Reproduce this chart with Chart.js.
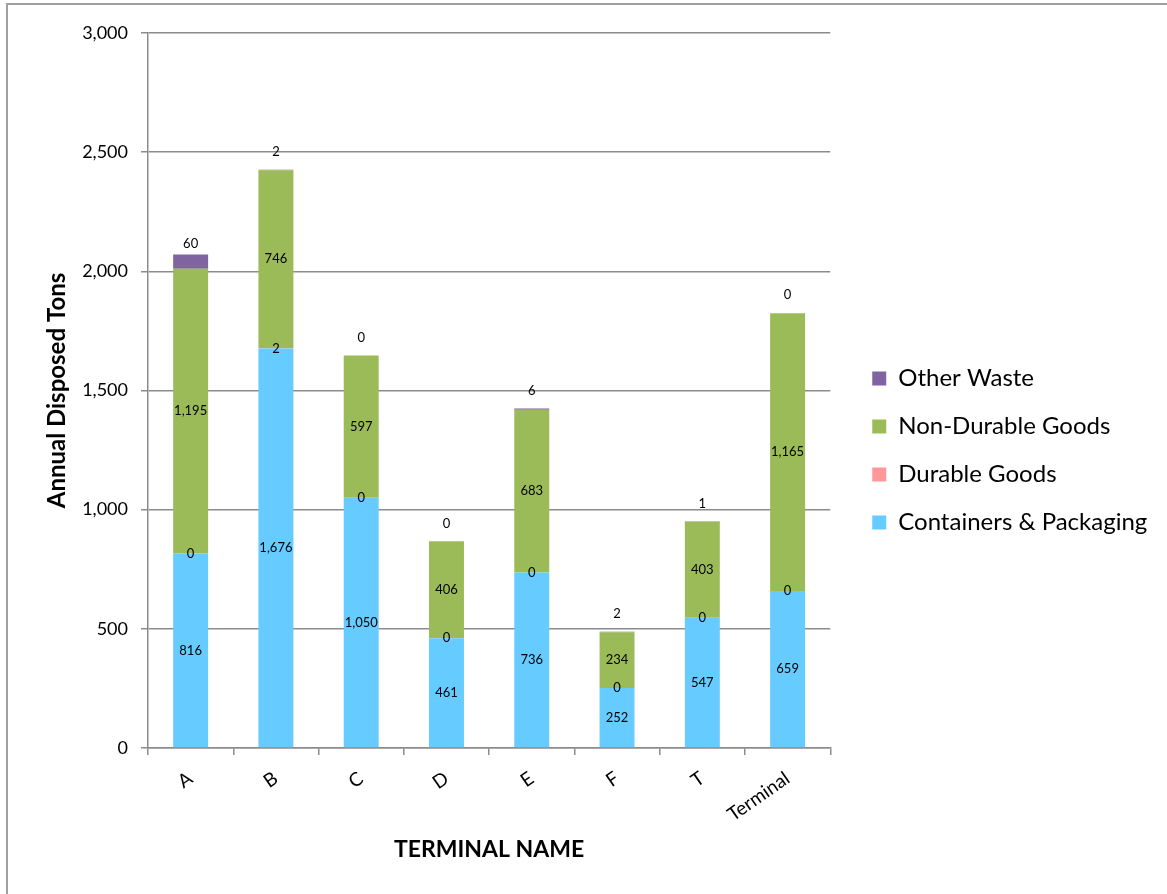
<!DOCTYPE html>
<html lang="en">
<head>
    <meta charset="UTF-8">
    <title>Annual Disposed Tons by Terminal</title>
    <script src="https://cdn.jsdelivr.net/npm/chart.js"></script>
    <style>
        body { margin: 0; background: #ffffff; overflow: hidden; }
        /* outer frame, only left and top edges are visible in the window */
        .frame {
            position: absolute; left: 6px; top: 3px;
            width: 1200px; height: 940px;
            border: 2px solid #a0a0a0;
        }
        #chart { position: absolute; left: 0; top: 0; }
    </style>
</head>
<body>
    <div class="frame"></div>
    <canvas id="chart" width="1167" height="894"></canvas>

    <script>
        // data
        var terminals = ['A', 'B', 'C', 'D', 'E', 'F', 'T', 'Terminal'];
        var containers = [816, 1676, 1050, 461, 736, 252, 547, 659];
        var durable = [0, 2, 0, 0, 0, 0, 0, 0];
        var nonDurable = [1195, 746, 597, 406, 683, 234, 403, 1165];
        var otherWaste = [60, 2, 0, 0, 6, 2, 1, 0];
        var yTicks = [0, 500, 1000, 1500, 2000, 2500, 3000];

        var fontName = 'Lato, "Open Sans", sans-serif';
        var gridGray = '#8c8c8c';

        // value labels on each segment; Other Waste sits above the stack
        var segmentLabels = {
            id: 'segmentLabels',
            afterDatasetsDraw: function (chart) {
                var ctx = chart.ctx;
                ctx.save();
                ctx.font = '13px ' + fontName;
                ctx.fillStyle = '#000';
                ctx.textAlign = 'center';
                ctx.textBaseline = 'middle';
                chart.data.datasets.forEach(function (ds, di) {
                    chart.getDatasetMeta(di).data.forEach(function (bar, i) {
                        var mid = (bar.y + bar.base) / 2;
                        var y = di === 3 ? mid - 18 : mid;
                        ctx.fillText(ds.data[i].toLocaleString('en-US'), bar.x, y);
                    });
                });
                ctx.restore();
            }
        };

        // nudge the legend a little right and up, and give the long label room
        var legendNudge = {
            id: 'legendNudge',
            afterLayout: function (chart) {
                var lg = chart.legend;
                lg.left += 18;
                lg.right += 18 + 60;
                lg.width += 60;
                lg.maxWidth = lg.width;
                lg.top -= 13; lg.bottom -= 13;
            }
        };

        var ctx = document.getElementById('chart').getContext('2d');
        var chart = new Chart(ctx, {
            type: 'bar',
            data: {
                labels: terminals,
                datasets: [
                    { label: 'Containers & Packaging', data: containers, backgroundColor: '#66ccff' },
                    { label: 'Durable Goods', data: durable, backgroundColor: '#ff9999' },
                    { label: 'Non-Durable Goods', data: nonDurable, backgroundColor: '#9bbb59' },
                    { label: 'Other Waste', data: otherWaste, backgroundColor: '#8064a2' }
                ]
            },
            options: {
                responsive: false,
                animation: false,
                devicePixelRatio: 1,
                layout: { padding: { left: 6, top: 33, right: 62, bottom: 0 } },
                datasets: {
                    bar: { barPercentage: 0.41, categoryPercentage: 1 }
                },
                plugins: {
                    tooltip: { enabled: false },
                    legend: {
                        position: 'right',
                        reverse: true,
                        labels: {
                            boxWidth: 14,
                            boxHeight: 14,
                            padding: 24,
                            color: '#000',
                            font: { family: fontName, size: 24 }
                        }
                    }
                },
                scales: {
                    x: {
                        stacked: true,
                        afterFit: function (s) { s.height = 146; },
                        border: { color: gridGray, width: 1.5 },
                        grid: { offset: true, drawOnChartArea: false, drawTicks: true, tickLength: 7, color: gridGray, lineWidth: 1.5 },
                        ticks: {
                            minRotation: 35, maxRotation: 35,
                            padding: 12,
                            color: '#000',
                            font: { family: fontName, size: 19 }
                        },
                        title: {
                            display: true,
                            text: 'TERMINAL NAME',
                            color: '#000',
                            font: { family: fontName, size: 23, weight: 'bold' },
                            padding: { top: 0, bottom: 31 }
                        }
                    },
                    y: {
                        stacked: true,
                        min: 0,
                        max: 3000,
                        afterFit: function (s) { s.width = 142; },
                        afterBuildTicks: function (s) { s.ticks = yTicks.map(function (v) { return { value: v }; }); },
                        border: { color: gridGray, width: 1.5 },
                        grid: { color: gridGray, lineWidth: 1.5, tickLength: 7 },
                        ticks: {
                            padding: 13,
                            color: '#000',
                            font: { family: fontName, size: 18 },
                            callback: function (v) { return v.toLocaleString('en-US'); }
                        },
                        title: {
                            display: true,
                            text: 'Annual Disposed Tons',
                            color: '#000',
                            font: { family: fontName, size: 24, weight: 'bold' },
                            padding: { top: 37, bottom: 0 }
                        }
                    }
                }
            },
            plugins: [segmentLabels, legendNudge]
        });
    </script>
</body>
</html>
